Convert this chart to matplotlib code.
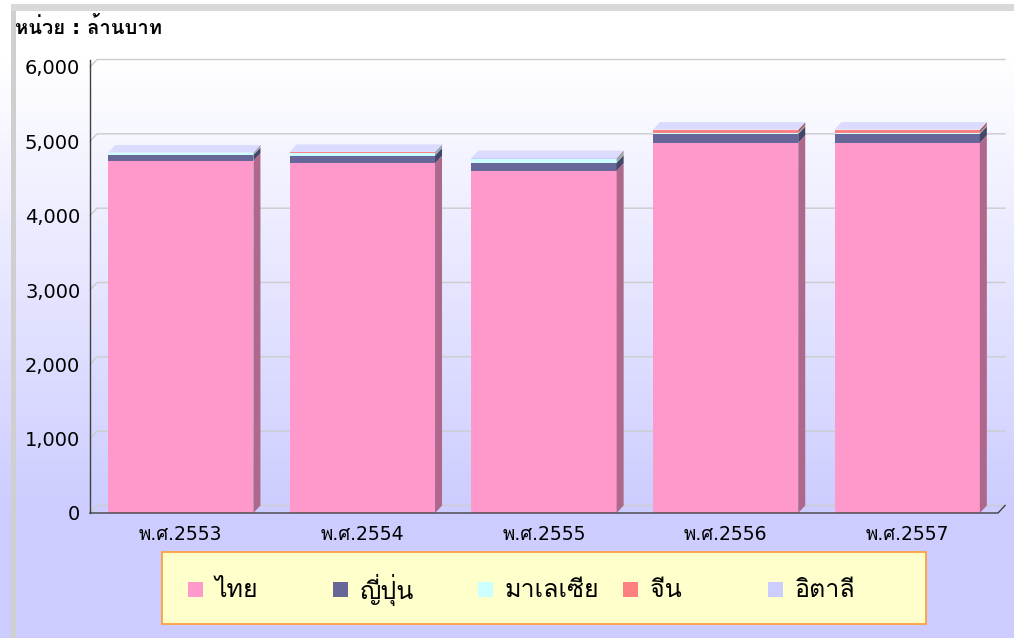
"""
Stacked 3D-look bar chart: value by source country, พ.ศ.2553-2557.
Output: out.png (1014 x 638 px)
"""
import matplotlib
matplotlib.use("Agg")
import matplotlib.pyplot as plt
import numpy as np
from matplotlib.colors import to_rgb
from matplotlib.patches import Polygon, Rectangle

plt.rcParams["font.family"] = ["DejaVu Sans", "Loma"]

# ---- Data (ล้านบาท) ----
YEARS = ["พ.ศ.2553", "พ.ศ.2554", "พ.ศ.2555", "พ.ศ.2556", "พ.ศ.2557"]
SERIES = ["ไทย", "ญี่ปุ่น", "มาเลเซีย", "จีน", "อิตาลี"]
THAI = [4740, 4705, 4605, 4980, 4980]
JAPAN = [76, 103, 107, 120, 120]
MALAYSIA = [21, 40, 44, 17, 17]
CHINA = [7, 5, 13, 36, 36]
ITALY = [5, 5, 5, 5, 5]
Y_TICKS = [0, 1000, 2000, 3000, 4000, 5000, 6000]

# ---- Style ----
COLORS = ["#ff99cc", "#666699", "#ccffff", "#ff8080", "#ccccff"]
GRID = "#cccccc"
AXIS = "#404040"
W, H = 1014, 638


def shade(color, k):
    return tuple(c * k for c in to_rgb(color))


def tint(color, k):
    return tuple(c + (1 - c) * k for c in to_rgb(color))


def main():
    fig = plt.figure(figsize=(W / 100, H / 100), dpi=100)

    # background: white on top, gradient to lavender down to the floor
    bg = fig.add_axes([0, 0, 1, 1], zorder=-5)
    bg.axis("off")
    rows = np.arange(H)
    t = np.clip((rows - 60) / (513 - 60), 0, 1)[:, None]
    lav = np.array(to_rgb("#ccccff"))
    img = (1 - t)[:, :, None] * np.ones(3) + t[:, :, None] * lav
    img = np.repeat(img, 2, axis=1)
    bg.imshow(img, aspect="auto", extent=[0, 1, 0, 1])

    # frame borders
    fig.add_artist(Rectangle((11 / W, 0), 5 / W, 1 - 4 / H,
                             transform=fig.transFigure, color="#cfcfcf", lw=0))
    fig.add_artist(Rectangle((11 / W, 1 - 11 / H), 1, 7 / H,
                             transform=fig.transFigure, color="#d9d9d9", lw=0))

    ax = fig.add_axes([90 / W, (H - 513) / H, 908 / W, (513 - 67) / H])
    ax.set_facecolor("none")
    for s in ax.spines.values():
        s.set_visible(False)
    ax.set_xlim(-0.5, len(YEARS) - 0.5)
    ax.set_ylim(0, 6000)

    dx = 7 / 181.6          # depth offset in category units
    dy = 7.5 * 6000 / 446   # depth offset in value units
    x_end = len(YEARS) - 0.5

    # back wall grid lines with the 3D slant at the left
    for v in Y_TICKS:
        ax.plot([-0.5, -0.5 + dx, x_end + dx], [v, v + dy, v + dy],
                color=GRID, lw=1, clip_on=False, zorder=1)
    # floor front edge and left axis
    ax.plot([-0.5, x_end, x_end + dx], [0, 0, dy],
            color=AXIS, lw=1, clip_on=False, zorder=4)
    ax.plot([-0.5, -0.5], [0, 6000 + dy], color=AXIS, lw=1,
            clip_on=False, zorder=4)

    x = np.arange(len(YEARS))
    width = 0.8
    bottom = np.zeros(len(YEARS))
    for name, vals, col in zip(SERIES, [THAI, JAPAN, MALAYSIA, CHINA, ITALY],
                               COLORS):
        vals = np.array(vals, dtype=float)
        ax.bar(x, vals, width, bottom=bottom, color=col, lw=0,
               label=name, zorder=3)
        for xi, b, v in zip(x, bottom, vals):
            x1 = xi + width / 2
            ax.add_patch(Polygon(
                [(x1, b), (x1 + dx, b + dy), (x1 + dx, b + v + dy), (x1, b + v)],
                closed=True, facecolor=shade(col, 0.68), lw=0, zorder=3,
                clip_on=False))
        bottom = bottom + vals

    # top faces
    for xi, top in zip(x, bottom):
        x0, x1 = xi - width / 2, xi + width / 2
        ax.add_patch(Polygon(
            [(x0, top), (x0 + dx, top + dy), (x1 + dx, top + dy), (x1, top)],
            closed=True, facecolor=tint(COLORS[-1], 0.3), lw=0, zorder=3,
            clip_on=False))

    ax.set_yticks(Y_TICKS)
    ax.set_yticklabels([f"{v:,}" for v in Y_TICKS], fontsize=14)
    ax.set_xticks(x)
    ax.set_xticklabels(YEARS, fontsize=13.5)
    ax.tick_params(axis="y", length=0, pad=7)
    ax.tick_params(axis="x", length=0, pad=9)

    fig.text(15 / W, 1 - 27 / H, "หน่วย : ล้านบาท", fontsize=14.5,
             fontweight="bold", ha="left", va="center")

    # legend box
    fig.add_artist(Rectangle((162 / W, (H - 624) / H), 764 / W, 72 / H,
                             transform=fig.transFigure, facecolor="#ffffcc",
                             edgecolor="#ffa040", lw=1.3))
    for i, (name, col) in enumerate(zip(SERIES, COLORS)):
        sx = 188 + 145 * i
        fig.add_artist(Rectangle((sx / W, (H - 597) / H), 15 / W, 15 / H,
                                 transform=fig.transFigure, facecolor=col,
                                 lw=0))
        fig.text((sx + 27) / W, (H - 590) / H, name, fontsize=18,
                 ha="left", va="center")

    fig.savefig("out.png", dpi=100, facecolor="white")
    plt.close(fig)


if __name__ == "__main__":
    main()
